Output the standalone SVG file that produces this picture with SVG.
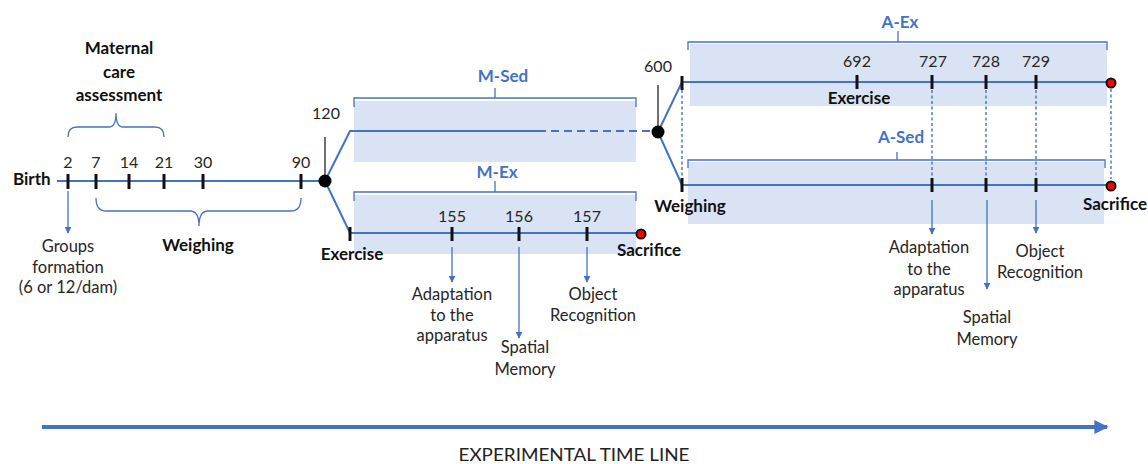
<svg xmlns="http://www.w3.org/2000/svg" width="1148" height="464" viewBox="0 0 1148 464">
<defs>
<style>
text{font-family:Lato,"Liberation Sans",sans-serif;}
.lbl{font-size:16.5px;fill:#262626;text-anchor:middle;}
.num{font-size:16px;fill:#262626;text-anchor:middle;}
.bold{font-size:17px;font-weight:bold;fill:#111;}
.grp{font-size:17px;font-weight:bold;fill:#4472c4;text-anchor:middle;}
.line{stroke:#4472c4;stroke-width:2;fill:none;}
.thin{stroke:#4472c4;stroke-width:1.3;fill:none;}
.tick{stroke:#111;stroke-width:3;}
.dot{stroke:#4472c4;stroke-width:1.4;stroke-dasharray:3 2.5;fill:none;}
.box{fill:#dae3f3;}
.arr{stroke:#4472c4;stroke-width:1.3;fill:none;marker-end:url(#ah);}
.red{fill:#ff0000;stroke:#111;stroke-width:2;}
</style>
<marker id="ah" viewBox="0 0 10 10" refX="9" refY="5" markerWidth="7" markerHeight="7" orient="auto" markerUnits="userSpaceOnUse">
<path d="M0,0 L10,5 L0,10 z" fill="#4472c4"/>
</marker>
<marker id="big" viewBox="0 0 10 10" refX="9" refY="5" markerWidth="14" markerHeight="14" orient="auto" markerUnits="userSpaceOnUse">
<path d="M0,0 L10,5 L0,10 z" fill="#4472c4"/>
</marker>
</defs>

<g id="boxes">
<rect class="box" x="354" y="101" width="282" height="61"/>
<rect class="box" x="354" y="195" width="282" height="59"/>
<rect class="box" x="690" y="44" width="417" height="62"/>
<rect class="box" x="688" y="162" width="416" height="62"/>
</g>

<g id="connectors">
<!-- early timeline -->
<line class="line" x1="57" y1="181" x2="325" y2="181"/>
<path class="line" d="M325,181 L350,131 L538,131"/>
<line class="line" x1="538" y1="131" x2="652" y2="131" stroke-dasharray="8 5"/>
<path class="line" d="M325,181 L350,233 L636,233"/>
<line x1="325" y1="137" x2="325" y2="181" stroke="#111" stroke-width="1.2"/>
<line x1="658" y1="85" x2="658" y2="132" stroke="#111" stroke-width="1.2"/>
<path class="line" d="M658,132 L682,82 L1106,82"/>
<path class="line" d="M658,132 L682,185 L1106,185"/>
<!-- braces -->
<path class="thin" d="M68,137 Q68,127 77,127 L109,127 Q116,127 116,113 Q116,127 123,127 L155,127 Q164,127 164,137"/>
<path class="thin" d="M96,198 Q96,211 106,211 L190,211 Q199,211 199,226 Q199,211 208,211 L291,211 Q301,211 301,198"/>
<!-- group brackets -->
<path class="thin" d="M354,107 L354,98 L636,98 L636,107 M495,98 L495,88"/>
<path class="thin" d="M354,201 L354,192 L636,192 L636,201 M495,192 L495,181"/>
<path class="thin" d="M688,50 L688,42 L1107,42 L1107,50 M898,42 L898,31"/>
<path class="thin" d="M688,168 L688,160 L1105,160 L1105,168 M897,160 L897,152"/>
<!-- dotted links -->
<line class="dot" x1="682" y1="90" x2="682" y2="178"/>
<line class="dot" x1="932" y1="90" x2="932" y2="178"/>
<line class="dot" x1="986" y1="90" x2="986" y2="178"/>
<line class="dot" x1="1036" y1="90" x2="1036" y2="178"/>
<line class="dot" x1="1111" y1="89" x2="1111" y2="179"/>
<!-- arrows -->
<line class="arr" x1="68" y1="191" x2="68" y2="233"/>
<line class="arr" x1="452" y1="247" x2="452" y2="282"/>
<line class="arr" x1="519" y1="247" x2="519" y2="338"/>
<line class="arr" x1="587" y1="247" x2="587" y2="282"/>
<line class="arr" x1="932" y1="200" x2="932" y2="234"/>
<line class="arr" x1="987" y1="200" x2="987" y2="289"/>
<line class="arr" x1="1036" y1="200" x2="1036" y2="233"/>
<line stroke="#4472c4" stroke-width="4" x1="42" y1="427" x2="1107" y2="427" marker-end="url(#big)"/>
</g>

<g id="ticks">
<line class="tick" x1="68" y1="174" x2="68" y2="189"/>
<line class="tick" x1="96" y1="174" x2="96" y2="189"/>
<line class="tick" x1="129" y1="174" x2="129" y2="189"/>
<line class="tick" x1="164" y1="174" x2="164" y2="189"/>
<line class="tick" x1="203" y1="174" x2="203" y2="189"/>
<line class="tick" x1="301" y1="174" x2="301" y2="189"/>
<line class="tick" x1="350" y1="227" x2="350" y2="241"/>
<line class="tick" x1="452" y1="227" x2="452" y2="241"/>
<line class="tick" x1="519" y1="227" x2="519" y2="241"/>
<line class="tick" x1="587" y1="227" x2="587" y2="241"/>
<line class="tick" x1="682" y1="76" x2="682" y2="90"/>
<line class="tick" x1="857" y1="75" x2="857" y2="89"/>
<line class="tick" x1="932" y1="75" x2="932" y2="89"/>
<line class="tick" x1="986" y1="75" x2="986" y2="89"/>
<line class="tick" x1="1036" y1="75" x2="1036" y2="89"/>
<line class="tick" x1="682" y1="178" x2="682" y2="192"/>
<line class="tick" x1="932" y1="178" x2="932" y2="192"/>
<line class="tick" x1="986" y1="178" x2="986" y2="192"/>
<line class="tick" x1="1036" y1="178" x2="1036" y2="192"/>
</g>

<g id="nodes">
<circle cx="325" cy="181" r="6.5" fill="#000"/>
<circle cx="658" cy="132" r="6.5" fill="#000"/>
<circle class="red" cx="641" cy="234" r="4.5"/>
<circle class="red" cx="1111" cy="83" r="4.5"/>
<circle class="red" cx="1111" cy="186" r="4.5"/>
</g>

<g id="maternal">
<text class="bold" x="119" y="54" text-anchor="middle">Maternal</text>
<text class="bold" x="119" y="78" text-anchor="middle">care</text>
<text class="bold" x="119" y="101" text-anchor="middle">assessment</text>
</g>

<g id="early-labels">
<text class="bold" x="13" y="185">Birth</text>
<text class="num" x="68" y="168">2</text>
<text class="num" x="96" y="168">7</text>
<text class="num" x="129" y="168">14</text>
<text class="num" x="164" y="168">21</text>
<text class="num" x="203" y="168">30</text>
<text class="num" x="301" y="168">90</text>
<text class="num" x="326" y="119">120</text>
<text class="bold" x="198" y="251" text-anchor="middle">Weighing</text>
<text class="lbl" x="68" y="252">Groups</text>
<text class="lbl" x="68" y="273">formation</text>
<text class="lbl" x="68" y="293">(6 or 12/dam)</text>
</g>

<g id="m-groups">
<text class="grp" x="503" y="82">M-Sed</text>
<text class="grp" x="497" y="178">M-Ex</text>
<text class="num" x="452" y="222">155</text>
<text class="num" x="519" y="222">156</text>
<text class="num" x="587" y="222">157</text>
<text class="bold" x="352" y="260" text-anchor="middle">Exercise</text>
<text class="bold" x="649" y="256" text-anchor="middle">Sacrifice</text>
<text class="lbl" x="452" y="300">Adaptation</text>
<text class="lbl" x="452" y="321">to the</text>
<text class="lbl" x="452" y="341">apparatus</text>
<text class="lbl" x="525" y="353">Spatial</text>
<text class="lbl" x="525" y="375">Memory</text>
<text class="lbl" x="593" y="300">Object</text>
<text class="lbl" x="593" y="321">Recognition</text>
</g>

<g id="a-groups">
<text class="num" x="658" y="72">600</text>
<text class="grp" x="900" y="28">A-Ex</text>
<text class="grp" x="901" y="143">A-Sed</text>
<text class="num" x="857" y="67">692</text>
<text class="num" x="933" y="67">727</text>
<text class="num" x="986" y="67">728</text>
<text class="num" x="1036" y="67">729</text>
<text class="bold" x="859" y="104" text-anchor="middle">Exercise</text>
<text class="bold" x="690" y="212" text-anchor="middle">Weighing</text>
<text class="bold" x="1115" y="210" text-anchor="middle">Sacrifice</text>
<text class="lbl" x="929" y="253">Adaptation</text>
<text class="lbl" x="929" y="275">to the</text>
<text class="lbl" x="929" y="295">apparatus</text>
<text class="lbl" x="987" y="323">Spatial</text>
<text class="lbl" x="987" y="345">Memory</text>
<text class="lbl" x="1040" y="257">Object</text>
<text class="lbl" x="1040" y="278">Recognition</text>
</g>

<text x="574" y="461" text-anchor="middle" font-size="17" fill="#222" textLength="231" lengthAdjust="spacingAndGlyphs">EXPERIMENTAL TIME LINE</text>
</svg>
